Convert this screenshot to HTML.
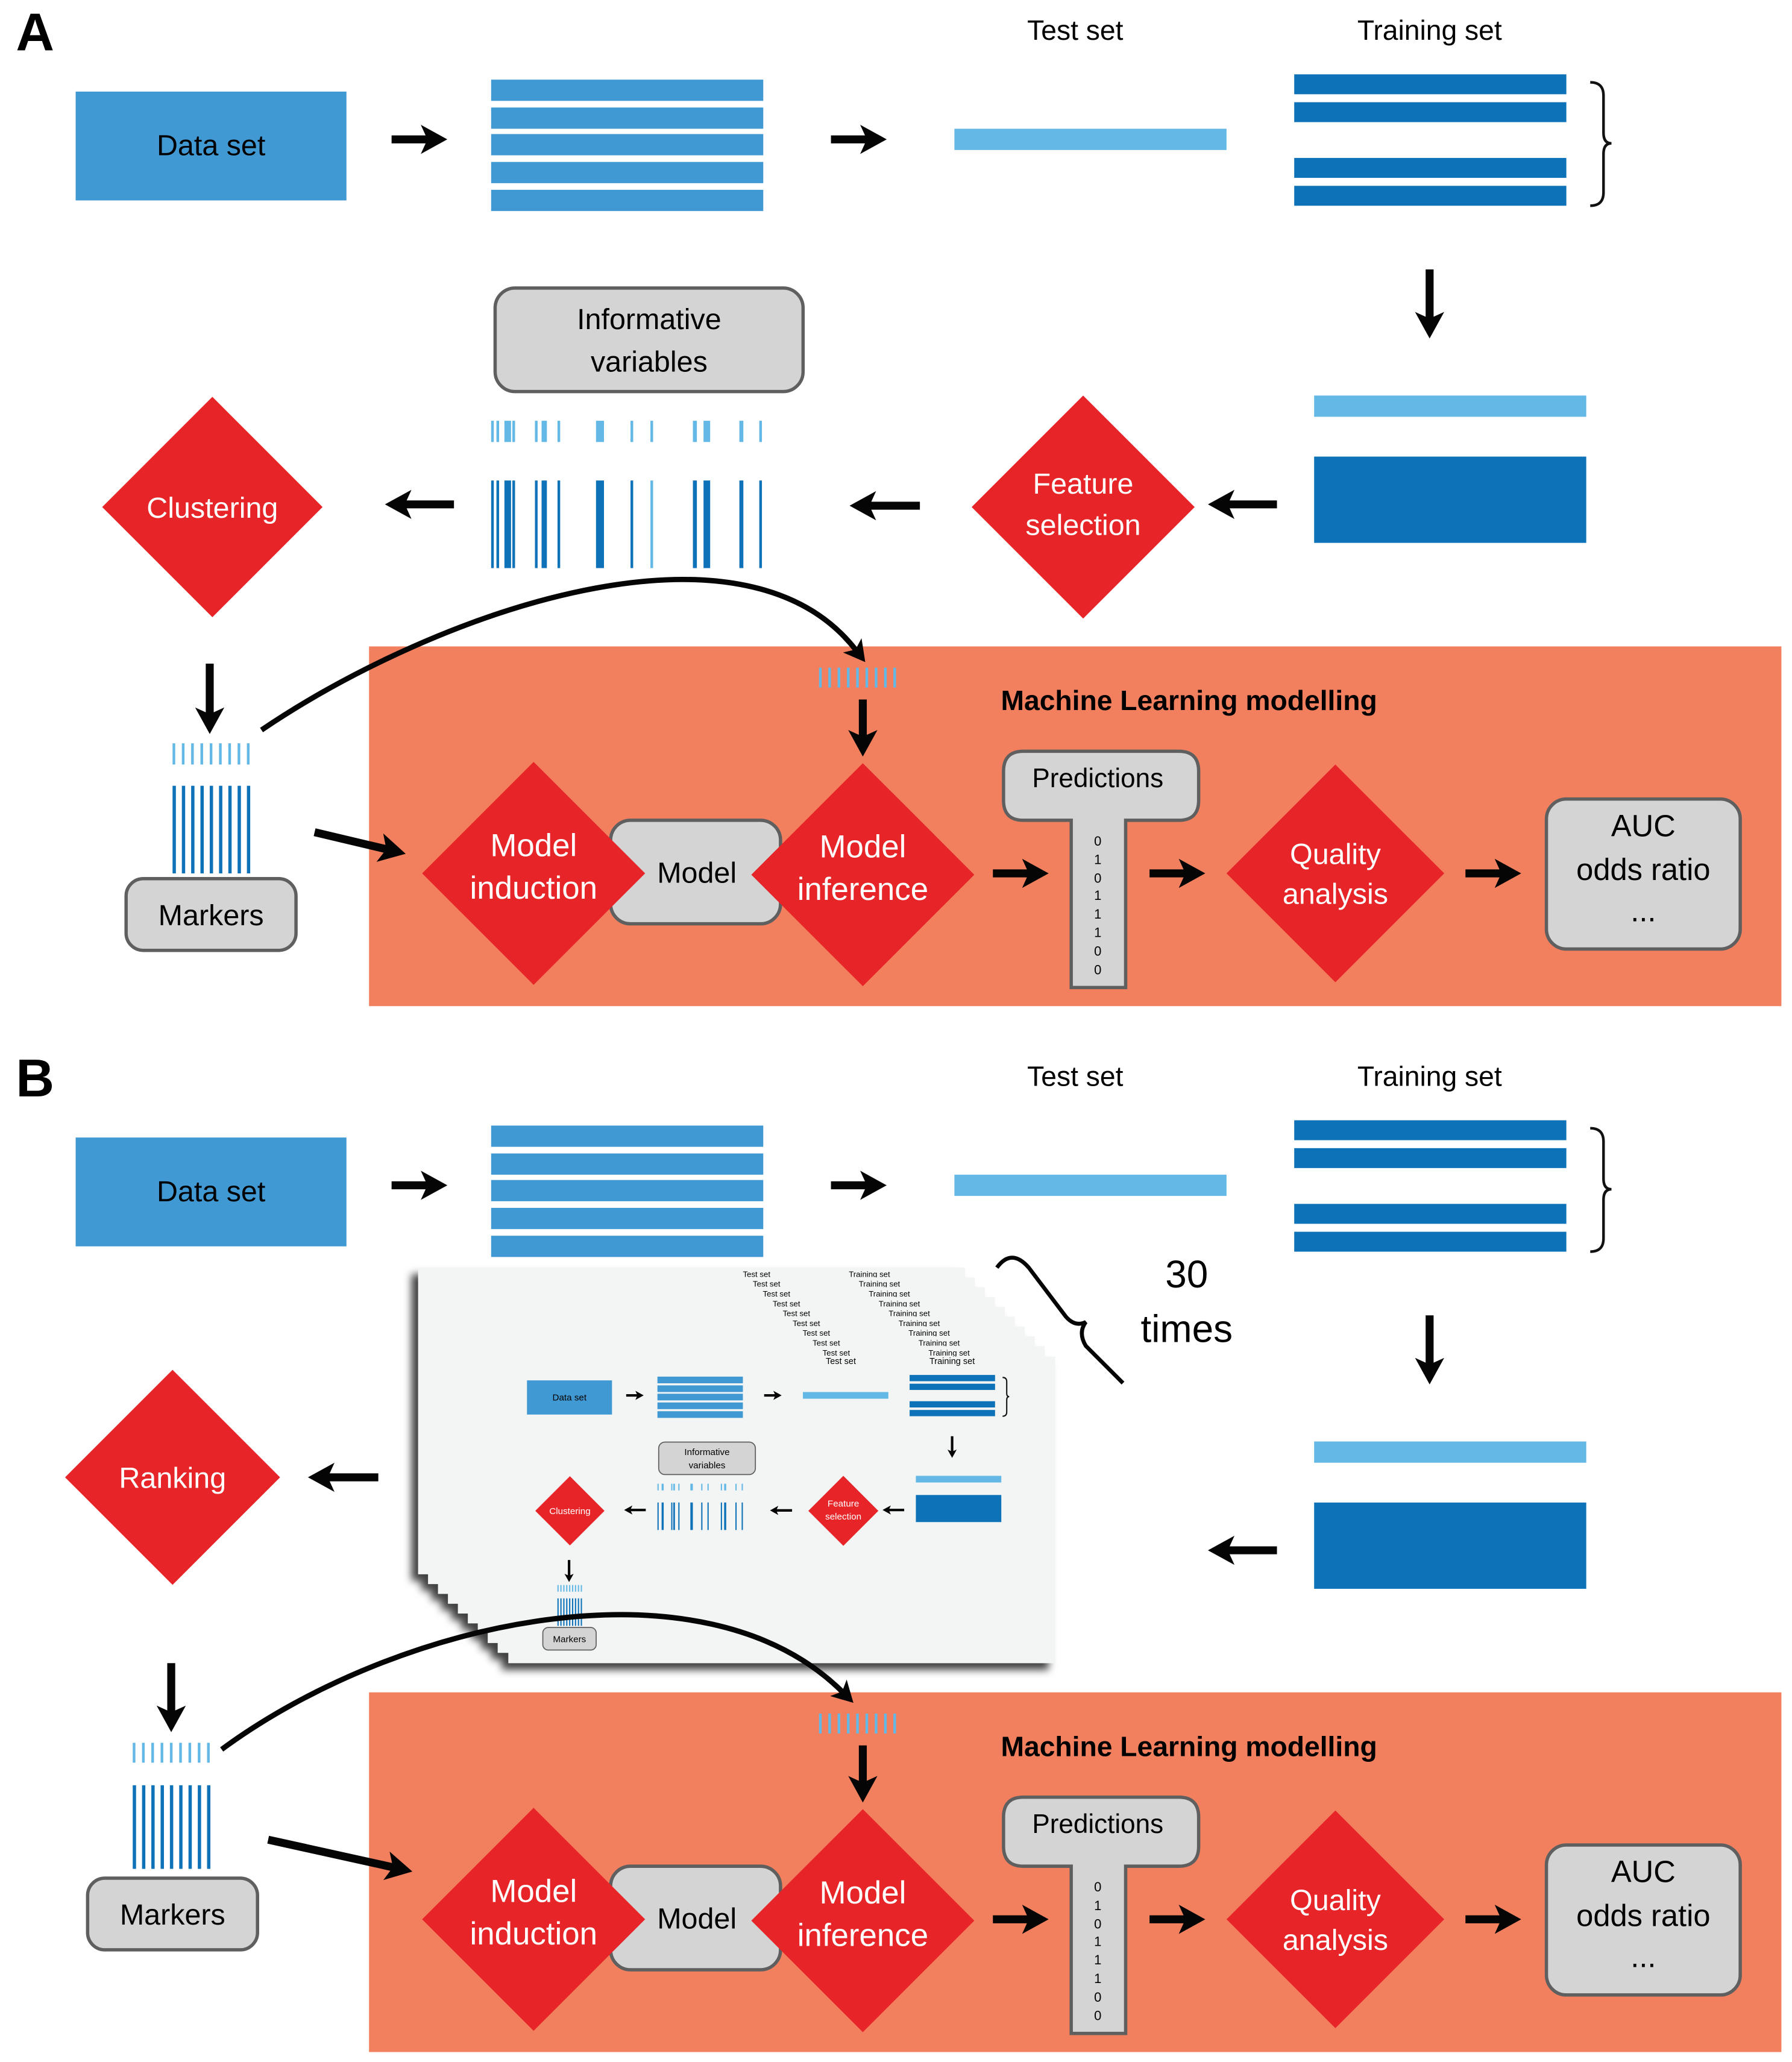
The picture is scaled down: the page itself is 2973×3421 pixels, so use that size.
<!DOCTYPE html>
<html><head><meta charset="utf-8"><style>html,body{margin:0;padding:0;background:#fff}svg{display:block}</style></head>
<body>
<svg width="2973" height="3421" viewBox="0 0 1350 1553.5" preserveAspectRatio="none" xmlns="http://www.w3.org/2000/svg" font-family="'Liberation Sans', sans-serif">
<defs>
<marker id="ah" viewBox="0 0 20 22" refX="6" refY="11" markerWidth="20" markerHeight="22" markerUnits="userSpaceOnUse" orient="auto"><path d="M0,0 L20,11 L0,22 L5,11 z" fill="#050505"/></marker>
<marker id="ah2" viewBox="0 0 20 22" refX="6" refY="11" markerWidth="16" markerHeight="18" markerUnits="userSpaceOnUse" orient="auto"><path d="M0,0 L20,11 L0,22 L5,11 z" fill="#050505"/></marker>
<filter id="sh" x="-10%" y="-10%" width="120%" height="125%"><feDropShadow dx="-5" dy="5" stdDeviation="3" flood-color="#000" flood-opacity="0.75"/></filter>
</defs>
<g fill="none" stroke="#050505" stroke-width="6" marker-end="url(#ah)">
</g>

<!-- ============ SECTION A ============ -->
<text x="12" y="38" font-size="40" font-weight="bold">A</text>
<g id="topA">
<text x="810" y="30" font-size="21" text-anchor="middle">Test  set</text>
<text x="1077" y="30" font-size="21" text-anchor="middle">Training set</text>
<rect x="57" y="69" width="204" height="82" fill="#4199d4"/>
<text x="159" y="117" font-size="22" text-anchor="middle">Data set</text>
<g fill="#4199d4"><rect x="370" y="60" width="205" height="16"/><rect x="370" y="81" width="205" height="16"/><rect x="370" y="101" width="205" height="16"/><rect x="370" y="122" width="205" height="16"/><rect x="370" y="143" width="205" height="16"/></g>
<rect x="719" y="97" width="205" height="16" fill="#63b8e6"/>
<g fill="#0e72b8"><rect x="975" y="56" width="205" height="15"/><rect x="975" y="77" width="205" height="15"/><rect x="975" y="119" width="205" height="15"/><rect x="975" y="140" width="205" height="15"/></g>
<path d="M1198,62 Q1208,62 1208,72 L1208,100 Q1208,108 1214,108 Q1208,108 1208,116 L1208,145 Q1208,155 1198,155" fill="none" stroke="#111" stroke-width="2"/>
<g fill="none" stroke="#050505" stroke-width="6" marker-end="url(#ah)">
<line x1="295" y1="105" x2="323" y2="105"/>
<line x1="626" y1="105" x2="654" y2="105"/>
<line x1="1077" y1="203" x2="1077" y2="241"/>
<line x1="962" y1="380" x2="924" y2="380"/>
<line x1="693" y1="381" x2="654" y2="381"/>
<line x1="342" y1="380" x2="304" y2="380"/>
<line x1="158" y1="500" x2="158" y2="539"/>
</g>
<rect x="990" y="298" width="205" height="16" fill="#63b8e6"/>
<rect x="990" y="344" width="205" height="65" fill="#0e72b8"/>
<polygon points="816,298 900,382 816,466 732,382" fill="#e72427"/>
<text x="816" y="372" font-size="22" fill="#fff" text-anchor="middle">Feature</text>
<text x="816" y="403" font-size="22" fill="#fff" text-anchor="middle">selection</text>
<rect x="373" y="217" width="232" height="78" rx="15" fill="#d4d4d4" stroke="#5f5f5f" stroke-width="2.5"/>
<text x="489" y="248" font-size="22" text-anchor="middle">Informative</text>
<text x="489" y="280" font-size="22" text-anchor="middle">variables</text>
<g fill="#63b8e6"><rect x="370" y="317" width="2" height="16"/><rect x="374" y="317" width="2" height="16"/><rect x="380" y="317" width="5" height="16"/><rect x="386" y="317" width="2" height="16"/><rect x="403" y="317" width="2" height="16"/><rect x="408" y="317" width="4" height="16"/><rect x="420" y="317" width="2" height="16"/><rect x="449" y="317" width="6" height="16"/><rect x="475" y="317" width="2" height="16"/><rect x="490" y="317" width="2" height="16"/><rect x="522" y="317" width="3" height="16"/><rect x="530" y="317" width="5" height="16"/><rect x="557" y="317" width="3" height="16"/><rect x="572" y="317" width="2" height="16"/></g>
<g fill="#0e72b8"><rect x="370" y="362" width="2" height="66"/><rect x="374" y="362" width="2" height="66"/><rect x="380" y="362" width="5" height="66"/><rect x="386" y="362" width="2" height="66"/><rect x="403" y="362" width="2" height="66"/><rect x="408" y="362" width="4" height="66"/><rect x="420" y="362" width="2" height="66"/><rect x="449" y="362" width="6" height="66"/><rect x="475" y="362" width="2" height="66"/><rect x="490" y="362" width="2" height="66" fill="#63b8e6"/><rect x="522" y="362" width="3" height="66"/><rect x="530" y="362" width="5" height="66"/><rect x="557" y="362" width="3" height="66"/><rect x="572" y="362" width="2" height="66"/></g>
<polygon points="160,299 243,382 160,465 77,382" fill="#e72427"/>
<text x="160" y="390" font-size="22" fill="#fff" text-anchor="middle">Clustering</text>
<g fill="#63b8e6"><rect x="130" y="560" width="2" height="16"/><rect x="137" y="560" width="2" height="16"/><rect x="144" y="560" width="2" height="16"/><rect x="151" y="560" width="2" height="16"/><rect x="158" y="560" width="2" height="16"/><rect x="165" y="560" width="2" height="16"/><rect x="172" y="560" width="2" height="16"/><rect x="179" y="560" width="2" height="16"/><rect x="186" y="560" width="2" height="16"/></g>
<g fill="#0e72b8"><rect x="130" y="592" width="2.5" height="66"/><rect x="137" y="592" width="2.5" height="66"/><rect x="144" y="592" width="2.5" height="66"/><rect x="151" y="592" width="2.5" height="66"/><rect x="158" y="592" width="2.5" height="66"/><rect x="165" y="592" width="2.5" height="66"/><rect x="172" y="592" width="2.5" height="66"/><rect x="179" y="592" width="2.5" height="66"/><rect x="186" y="592" width="2.5" height="66"/></g>
<rect x="95" y="662" width="128" height="54" rx="13" fill="#d4d4d4" stroke="#5f5f5f" stroke-width="2.5"/>
<text x="159" y="697" font-size="22" text-anchor="middle">Markers</text>
</g>

<!-- ML section A -->
<rect x="278" y="487" width="1064" height="271" fill="#f2805e"/>
<path d="M197,550 C330,460 560,380 645,490" fill="none" stroke="#050505" stroke-width="4" marker-end="url(#ah2)"/>
<line x1="237" y1="627" x2="292" y2="640" stroke="#050505" stroke-width="6" marker-end="url(#ah)"/>
<g id="mlA">
<text x="754" y="535" font-size="21" font-weight="bold">Machine Learning modelling</text>
<g fill="#63b8e6"><rect x="617" y="503" width="2" height="15"/><rect x="624" y="503" width="2" height="15"/><rect x="631" y="503" width="2" height="15"/><rect x="638" y="503" width="2" height="15"/><rect x="645" y="503" width="2" height="15"/><rect x="652" y="503" width="2" height="15"/><rect x="659" y="503" width="2" height="15"/><rect x="666" y="503" width="2" height="15"/><rect x="673" y="503" width="2" height="15"/></g>
<g fill="none" stroke="#050505" stroke-width="6" marker-end="url(#ah)">
<line x1="650" y1="527" x2="650" y2="556"/>
<line x1="748" y1="658" x2="776" y2="658"/>
<line x1="866" y1="658" x2="894" y2="658"/>
<line x1="1104" y1="658" x2="1132" y2="658"/>
</g>
<rect x="460" y="618" width="128" height="78" rx="15" fill="#d4d4d4" stroke="#5f5f5f" stroke-width="2.5"/>
<text x="525" y="665" font-size="22" text-anchor="middle">Model</text>
<polygon points="402,574 486,658 402,742 318,658" fill="#e72427"/>
<text x="402" y="645" font-size="24" fill="#fff" text-anchor="middle">Model</text>
<text x="402" y="677" font-size="24" fill="#fff" text-anchor="middle">induction</text>
<polygon points="650,575 734,659 650,743 566,659" fill="#e72427"/>
<text x="650" y="646" font-size="24" fill="#fff" text-anchor="middle">Model</text>
<text x="650" y="678" font-size="24" fill="#fff" text-anchor="middle">inference</text>
<path d="M771,566 L888,566 Q903,566 903,581 L903,603 Q903,618 888,618 L848,618 L848,744 L807,744 L807,618 L771,618 Q756,618 756,603 L756,581 Q756,566 771,566 Z" fill="#d4d4d4" stroke="#5f5f5f" stroke-width="2.5"/>
<text x="827" y="593" font-size="20" text-anchor="middle">Predictions</text>
<g font-size="10" text-anchor="middle"><text x="827" y="637">0</text><text x="827" y="651">1</text><text x="827" y="665">0</text><text x="827" y="678">1</text><text x="827" y="692">1</text><text x="827" y="706">1</text><text x="827" y="720">0</text><text x="827" y="734">0</text></g>
<polygon points="1006,576 1088,658 1006,740 924,658" fill="#e72427"/>
<text x="1006" y="651" font-size="22" fill="#fff" text-anchor="middle">Quality</text>
<text x="1006" y="681" font-size="22" fill="#fff" text-anchor="middle">analysis</text>
<rect x="1165" y="602" width="146" height="113" rx="15" fill="#d4d4d4" stroke="#5f5f5f" stroke-width="2.5"/>
<text x="1238" y="630" font-size="23" text-anchor="middle">AUC</text>
<text x="1238" y="663" font-size="23" text-anchor="middle">odds ratio</text>
<text x="1238" y="694" font-size="23" text-anchor="middle">...</text>
</g>

<!-- ============ SECTION B ============ -->
<text x="12" y="826" font-size="40" font-weight="bold">B</text>
<g transform="translate(0,788)">
<text x="810" y="30" font-size="21" text-anchor="middle">Test  set</text>
<text x="1077" y="30" font-size="21" text-anchor="middle">Training set</text>
<rect x="57" y="69" width="204" height="82" fill="#4199d4"/>
<text x="159" y="117" font-size="22" text-anchor="middle">Data set</text>
<g fill="#4199d4"><rect x="370" y="60" width="205" height="16"/><rect x="370" y="81" width="205" height="16"/><rect x="370" y="101" width="205" height="16"/><rect x="370" y="122" width="205" height="16"/><rect x="370" y="143" width="205" height="16"/></g>
<rect x="719" y="97" width="205" height="16" fill="#63b8e6"/>
<g fill="#0e72b8"><rect x="975" y="56" width="205" height="15"/><rect x="975" y="77" width="205" height="15"/><rect x="975" y="119" width="205" height="15"/><rect x="975" y="140" width="205" height="15"/></g>
<path d="M1198,62 Q1208,62 1208,72 L1208,100 Q1208,108 1214,108 Q1208,108 1208,116 L1208,145 Q1208,155 1198,155" fill="none" stroke="#111" stroke-width="2"/>
<g fill="none" stroke="#050505" stroke-width="6" marker-end="url(#ah)">
<line x1="295" y1="105" x2="323" y2="105"/>
<line x1="626" y1="105" x2="654" y2="105"/>
<line x1="1077" y1="203" x2="1077" y2="241"/>
<line x1="962" y1="380" x2="924" y2="380"/>
<line x1="285" y1="325" x2="246" y2="325"/>
<line x1="129" y1="465" x2="129" y2="503"/>
</g>
<rect x="990" y="298" width="205" height="16" fill="#63b8e6"/>
<rect x="990" y="344" width="205" height="65" fill="#0e72b8"/>
<polygon points="130,244 211,325 130,406 49,325" fill="#e72427"/>
<text x="130" y="333" font-size="22" fill="#fff" text-anchor="middle">Ranking</text>
</g>

<!-- stacked cards -->
<g filter="url(#sh)">
<g font-size="6" text-anchor="middle">
<rect x="315" y="955" width="412" height="231" fill="#f3f5f4"/><text x="570" y="962">Test  set</text><text x="655" y="962">Training set</text>
<rect x="322.5" y="962.4" width="412" height="231" fill="#f3f5f4"/><text x="577.5" y="969.4">Test  set</text><text x="662.5" y="969.4">Training set</text>
<rect x="330" y="969.8" width="412" height="231" fill="#f3f5f4"/><text x="585" y="976.8">Test  set</text><text x="670" y="976.8">Training set</text>
<rect x="337.5" y="977.2" width="412" height="231" fill="#f3f5f4"/><text x="592.5" y="984.2">Test  set</text><text x="677.5" y="984.2">Training set</text>
<rect x="345" y="984.6" width="412" height="231" fill="#f3f5f4"/><text x="600" y="991.6">Test  set</text><text x="685" y="991.6">Training set</text>
<rect x="352.5" y="992" width="412" height="231" fill="#f3f5f4"/><text x="607.5" y="999">Test  set</text><text x="692.5" y="999">Training set</text>
<rect x="360" y="999.4" width="412" height="231" fill="#f3f5f4"/><text x="615" y="1006.4">Test  set</text><text x="700" y="1006.4">Training set</text>
<rect x="367.5" y="1006.8" width="412" height="231" fill="#f3f5f4"/><text x="622.5" y="1013.8">Test  set</text><text x="707.5" y="1013.8">Training set</text>
<rect x="375" y="1014.2" width="412" height="231" fill="#f3f5f4"/><text x="630" y="1021.2">Test  set</text><text x="715" y="1021.2">Training set</text>
<rect x="383" y="1022" width="412" height="231" fill="#f3f5f4"/>
</g>
</g>
<g transform="translate(379.1,1018.3) scale(0.314)">
<text x="810" y="30" font-size="21" text-anchor="middle">Test  set</text>
<text x="1077" y="30" font-size="21" text-anchor="middle">Training set</text>
<rect x="57" y="69" width="204" height="82" fill="#4199d4"/>
<text x="159" y="117" font-size="22" text-anchor="middle">Data set</text>
<g fill="#4199d4"><rect x="370" y="60" width="205" height="16"/><rect x="370" y="81" width="205" height="16"/><rect x="370" y="101" width="205" height="16"/><rect x="370" y="122" width="205" height="16"/><rect x="370" y="143" width="205" height="16"/></g>
<rect x="719" y="97" width="205" height="16" fill="#63b8e6"/>
<g fill="#0e72b8"><rect x="975" y="56" width="205" height="15"/><rect x="975" y="77" width="205" height="15"/><rect x="975" y="119" width="205" height="15"/><rect x="975" y="140" width="205" height="15"/></g>
<path d="M1198,62 Q1208,62 1208,72 L1208,100 Q1208,108 1214,108 Q1208,108 1208,116 L1208,145 Q1208,155 1198,155" fill="none" stroke="#111" stroke-width="3"/>
<g fill="none" stroke="#050505" stroke-width="6" marker-end="url(#ah)">
<line x1="295" y1="105" x2="323" y2="105"/>
<line x1="626" y1="105" x2="654" y2="105"/>
<line x1="1077" y1="203" x2="1077" y2="241"/>
<line x1="962" y1="380" x2="924" y2="380"/>
<line x1="693" y1="381" x2="654" y2="381"/>
<line x1="342" y1="380" x2="304" y2="380"/>
<line x1="158" y1="500" x2="158" y2="539"/>
</g>
<rect x="990" y="298" width="205" height="16" fill="#63b8e6"/>
<rect x="990" y="344" width="205" height="65" fill="#0e72b8"/>
<polygon points="816,298 900,382 816,466 732,382" fill="#e72427"/>
<text x="816" y="372" font-size="22" fill="#fff" text-anchor="middle">Feature</text>
<text x="816" y="403" font-size="22" fill="#fff" text-anchor="middle">selection</text>
<rect x="373" y="217" width="232" height="78" rx="15" fill="#d4d4d4" stroke="#5f5f5f" stroke-width="2.5"/>
<text x="489" y="248" font-size="22" text-anchor="middle">Informative</text>
<text x="489" y="280" font-size="22" text-anchor="middle">variables</text>
<g fill="#63b8e6"><rect x="370" y="317" width="3" height="16"/><rect x="380" y="317" width="5" height="16"/><rect x="403" y="317" width="3" height="16"/><rect x="408" y="317" width="4" height="16"/><rect x="420" y="317" width="3" height="16"/><rect x="449" y="317" width="6" height="16"/><rect x="475" y="317" width="3" height="16"/><rect x="490" y="317" width="3" height="16"/><rect x="522" y="317" width="3" height="16"/><rect x="530" y="317" width="5" height="16"/><rect x="557" y="317" width="3" height="16"/><rect x="572" y="317" width="3" height="16"/></g>
<g fill="#0e72b8"><rect x="370" y="362" width="3" height="66"/><rect x="380" y="362" width="5" height="66"/><rect x="403" y="362" width="3" height="66"/><rect x="408" y="362" width="4" height="66"/><rect x="420" y="362" width="3" height="66"/><rect x="449" y="362" width="6" height="66"/><rect x="475" y="362" width="3" height="66"/><rect x="490" y="362" width="3" height="66"/><rect x="522" y="362" width="3" height="66"/><rect x="530" y="362" width="5" height="66"/><rect x="557" y="362" width="3" height="66"/><rect x="572" y="362" width="3" height="66"/></g>
<polygon points="160,299 243,382 160,465 77,382" fill="#e72427"/>
<text x="160" y="390" font-size="22" fill="#fff" text-anchor="middle">Clustering</text>
<g fill="#63b8e6"><rect x="130" y="560" width="3" height="16"/><rect x="137" y="560" width="3" height="16"/><rect x="144" y="560" width="3" height="16"/><rect x="151" y="560" width="3" height="16"/><rect x="158" y="560" width="3" height="16"/><rect x="165" y="560" width="3" height="16"/><rect x="172" y="560" width="3" height="16"/><rect x="179" y="560" width="3" height="16"/><rect x="186" y="560" width="3" height="16"/></g>
<g fill="#0e72b8"><rect x="130" y="592" width="3" height="66"/><rect x="137" y="592" width="3" height="66"/><rect x="144" y="592" width="3" height="66"/><rect x="151" y="592" width="3" height="66"/><rect x="158" y="592" width="3" height="66"/><rect x="165" y="592" width="3" height="66"/><rect x="172" y="592" width="3" height="66"/><rect x="179" y="592" width="3" height="66"/><rect x="186" y="592" width="3" height="66"/></g>
<rect x="95" y="662" width="128" height="54" rx="13" fill="#d4d4d4" stroke="#5f5f5f" stroke-width="2.5"/>
<text x="159" y="697" font-size="22" text-anchor="middle">Markers</text>
</g>

<!-- 30 times brace -->
<path d="M751,955 Q762,940 775,955 L803,992 Q810,1000 818,996 Q812,1004 818,1014 L846,1042" fill="none" stroke="#050505" stroke-width="3"/>
<text x="894" y="970" font-size="29" text-anchor="middle">30</text>
<text x="894" y="1011" font-size="29" text-anchor="middle">times</text>

<!-- Markers B -->
<g fill="#63b8e6"><rect x="100" y="1313" width="2" height="15"/><rect x="107" y="1313" width="2" height="15"/><rect x="114" y="1313" width="2" height="15"/><rect x="121" y="1313" width="2" height="15"/><rect x="128" y="1313" width="2" height="15"/><rect x="135" y="1313" width="2" height="15"/><rect x="142" y="1313" width="2" height="15"/><rect x="149" y="1313" width="2" height="15"/><rect x="156" y="1313" width="2" height="15"/></g>
<g fill="#0e72b8"><rect x="100" y="1345" width="2.5" height="63"/><rect x="107" y="1345" width="2.5" height="63"/><rect x="114" y="1345" width="2.5" height="63"/><rect x="121" y="1345" width="2.5" height="63"/><rect x="128" y="1345" width="2.5" height="63"/><rect x="135" y="1345" width="2.5" height="63"/><rect x="142" y="1345" width="2.5" height="63"/><rect x="149" y="1345" width="2.5" height="63"/><rect x="156" y="1345" width="2.5" height="63"/></g>
<rect x="66" y="1415" width="128" height="54" rx="13" fill="#d4d4d4" stroke="#5f5f5f" stroke-width="2.5"/>
<text x="130" y="1450" font-size="22" text-anchor="middle">Markers</text>

<!-- ML section B -->
<rect x="278" y="1275" width="1064" height="271" fill="#f2805e"/>
<path d="M167,1318 C300,1220 530,1170 635,1275" fill="none" stroke="#050505" stroke-width="4" marker-end="url(#ah2)"/>
<line x1="202" y1="1386" x2="297" y2="1407" stroke="#050505" stroke-width="6" marker-end="url(#ah)"/>
<g transform="translate(0,788)">
<text x="754" y="535" font-size="21" font-weight="bold">Machine Learning modelling</text>
<g fill="#63b8e6"><rect x="617" y="503" width="2" height="15"/><rect x="624" y="503" width="2" height="15"/><rect x="631" y="503" width="2" height="15"/><rect x="638" y="503" width="2" height="15"/><rect x="645" y="503" width="2" height="15"/><rect x="652" y="503" width="2" height="15"/><rect x="659" y="503" width="2" height="15"/><rect x="666" y="503" width="2" height="15"/><rect x="673" y="503" width="2" height="15"/></g>
<g fill="none" stroke="#050505" stroke-width="6" marker-end="url(#ah)">
<line x1="650" y1="527" x2="650" y2="556"/>
<line x1="748" y1="658" x2="776" y2="658"/>
<line x1="866" y1="658" x2="894" y2="658"/>
<line x1="1104" y1="658" x2="1132" y2="658"/>
</g>
<rect x="460" y="618" width="128" height="78" rx="15" fill="#d4d4d4" stroke="#5f5f5f" stroke-width="2.5"/>
<text x="525" y="665" font-size="22" text-anchor="middle">Model</text>
<polygon points="402,574 486,658 402,742 318,658" fill="#e72427"/>
<text x="402" y="645" font-size="24" fill="#fff" text-anchor="middle">Model</text>
<text x="402" y="677" font-size="24" fill="#fff" text-anchor="middle">induction</text>
<polygon points="650,575 734,659 650,743 566,659" fill="#e72427"/>
<text x="650" y="646" font-size="24" fill="#fff" text-anchor="middle">Model</text>
<text x="650" y="678" font-size="24" fill="#fff" text-anchor="middle">inference</text>
<path d="M771,566 L888,566 Q903,566 903,581 L903,603 Q903,618 888,618 L848,618 L848,744 L807,744 L807,618 L771,618 Q756,618 756,603 L756,581 Q756,566 771,566 Z" fill="#d4d4d4" stroke="#5f5f5f" stroke-width="2.5"/>
<text x="827" y="593" font-size="20" text-anchor="middle">Predictions</text>
<g font-size="10" text-anchor="middle"><text x="827" y="637">0</text><text x="827" y="651">1</text><text x="827" y="665">0</text><text x="827" y="678">1</text><text x="827" y="692">1</text><text x="827" y="706">1</text><text x="827" y="720">0</text><text x="827" y="734">0</text></g>
<polygon points="1006,576 1088,658 1006,740 924,658" fill="#e72427"/>
<text x="1006" y="651" font-size="22" fill="#fff" text-anchor="middle">Quality</text>
<text x="1006" y="681" font-size="22" fill="#fff" text-anchor="middle">analysis</text>
<rect x="1165" y="602" width="146" height="113" rx="15" fill="#d4d4d4" stroke="#5f5f5f" stroke-width="2.5"/>
<text x="1238" y="630" font-size="23" text-anchor="middle">AUC</text>
<text x="1238" y="663" font-size="23" text-anchor="middle">odds ratio</text>
<text x="1238" y="694" font-size="23" text-anchor="middle">...</text>
</g>
</svg>
</body></html>
